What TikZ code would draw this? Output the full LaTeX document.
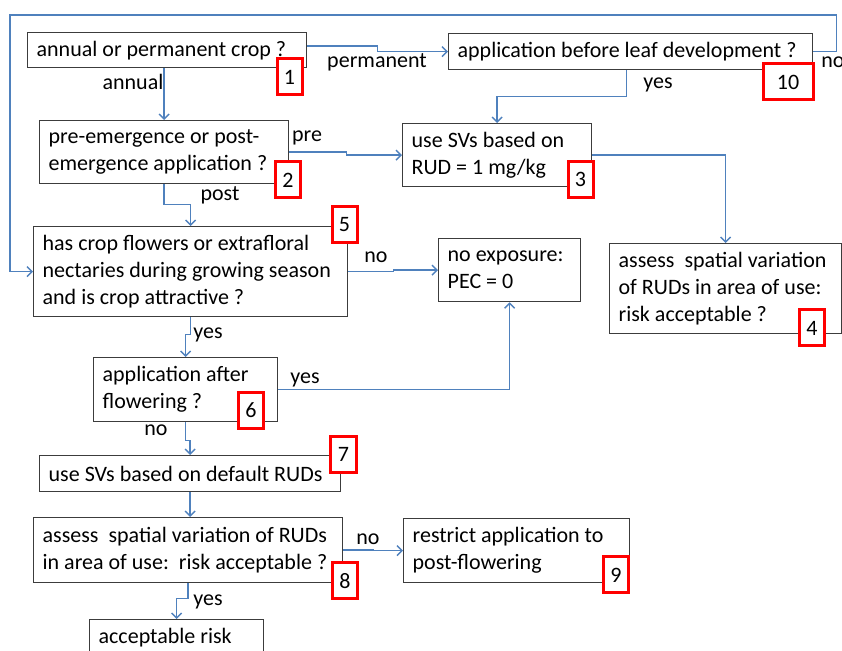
\documentclass[tikz,border=0pt]{standalone}
\usepackage{fontspec}
\setmainfont{Carlito}
\usepackage{tikz}
\usetikzlibrary{arrows.meta}
\definecolor{linkblue}{RGB}{79,129,189}
\definecolor{boxgray}{RGB}{60,60,60}
\newcommand\chartfont{\fontsize{11pt}{13.5pt}\selectfont\hyphenpenalty=10000\relax}

\begin{document}
\begin{tikzpicture}[x=0.5pt, y=-0.5pt,
        font=\chartfont,
        box/.style={draw=boxgray, line width=0.65pt, fill=white, align=left,
            anchor=north west, inner xsep=4.5pt, inner ysep=0pt,
            execute at begin node={\frenchspacing\spaceskip=2.5pt plus 1pt minus 0.3pt\relax
                \xspaceskip=2.5pt\relax}},
        badge/.style={draw=red, line width=1.5pt, fill=white, minimum height=18pt, inner sep=0pt},
        conn/.style={draw=linkblue, line width=0.7pt, -{Straight Barb[length=2.5pt,width=5pt]}},
        lbl/.style={inner sep=0pt}]
        \useasboundingbox (0,0) rectangle (842,651);
        \clip (0,0) rectangle (842,651);
        \fill[white] (0,0) rectangle (842,651);

        % boxes
        \node[box, text width=130.5pt, minimum height=17.5pt] (annual) at (27,32) {\mbox{annual or permanent crop ?}};
        \node[box, text width=173pt, minimum height=18pt] (leaf) at (448,33) {\mbox{application before leaf development ?}};
        \node[box, text width=115.5pt, minimum height=31.5pt] (emerg) at (39,120) {pre-emergence or post-\\emergence application ?};
        \node[box, text width=85.5pt, minimum height=31.5pt] (rudone) at (402,123) {use SVs based on\\RUD = 1 mg/kg};
        \node[box, text width=107pt, minimum height=45pt] (spatialA) at (609,243) {\mbox{assess\hspace{2.5pt} spatial variation}\\\mbox{of RUDs in area of use:}\\risk acceptable ?};
        \node[box, text width=148pt, minimum height=45pt] (flowers) at (33,226) {has crop flowers or extrafloral\\\mbox{nectaries during growing season}\\and is crop attractive ?};
        \node[box, text width=62pt, minimum height=31.5pt] (noexp) at (438,238) {no exposure:\\PEC = 0};
        \node[box, text width=83pt, minimum height=32pt] (after) at (93,357) {application after\\flowering ?};
        \node[box, text width=141.5pt, minimum height=18pt] (default) at (39,455) {\mbox{use SVs based on default RUDs}};
        \node[box, text width=145.5pt, minimum height=32.5pt] (spatialB) at (33,517) {\mbox{assess\hspace{2.5pt} spatial variation of RUDs}\\\mbox{in area of use:\hspace{2.5pt} risk acceptable ?}};
        \node[box, text width=104pt, minimum height=32pt] (restrict) at (403,518) {restrict application to\\post-flowering};
        \node[box, text width=78pt, minimum height=17.5pt] (accept) at (89,619) {acceptable risk};

        % connectors
        \coordinate (loop) at (10,15);
        \draw[conn] (emerg.north |- annual.south) -- (emerg.north);
        \draw[conn] ([yshift=2pt]annual.east) -- ++(35pt,0) |- (leaf.west);
        \draw[conn] (leaf.east) -- ++(11.5pt,0) |- (loop) |- (flowers.west);
        \draw[conn] ([xshift=-2pt]leaf.south) -- ++(0,-13pt) -| (rudone.north);
        \draw[conn] (emerg.east) -- ++(28.5pt,0) |- (rudone.west);
        \draw[conn] (emerg.south) -- ++(0,-10pt) -| (flowers.north);
        \draw[conn] (rudone.east) -| (spatialA.north);
        \draw[conn] (flowers.east) -- ++(22.5pt,0) |- (noexp.west);
        \draw[conn] (flowers.south) -- ++(0,-8.5pt) -| (after.north);
        \draw[conn] (after.east) -| (noexp.south);
        \draw[conn] (after.south) -- ++(0,-9pt) -| (default.north);
        \draw[conn] (default.south) -- (default.south |- spatialB.north);
        \draw[conn] (spatialB.east) -- ++(15pt,0) |- (restrict.west);
        \draw[conn] (spatialB.south) -- ++(0,-7.5pt) -| (accept.north);

        % answers
        \node[lbl] (tannual) at (133,82) {annual};
        \node[lbl] (tperm) at (377,62) {permanent};
        \node[lbl] (tnoleaf) at (833,62) {no};
        \node[lbl] (tyesleaf) at (658,85) {yes};
        \node[lbl] (tpre) at (307,138) {pre};
        \node[lbl] (tpost) at (220,195) {post};
        \node[lbl] (tnoflow) at (376,257) {no};
        \node[lbl] (tyesflow) at (208,335) {yes};
        \node[lbl] (tyesafter) at (305,380) {yes};
        \node[lbl] (tnoafter) at (156,430) {no};
        \node[lbl] (tnospat) at (368,539) {no};
        \node[lbl] (tyesspat) at (208,602) {yes};

        % step numbers
        \foreach \n/\x/\y/\w in {1/289.5/77/12.5, 2/288/180/12.5, 3/580.5/179.5/12.5,
                4/812/328/12.5, 5/344.5/224.5/12.5, 6/251/410.5/12.5, 7/343.5/454.5/13,
                8/345/581/12.5, 9/616/575/12.5, 10/788/82/25} {
            \node[badge, minimum width=\w pt] (num\n) at (\x,\y) {\n};
        }
\end{tikzpicture}
\end{document}
